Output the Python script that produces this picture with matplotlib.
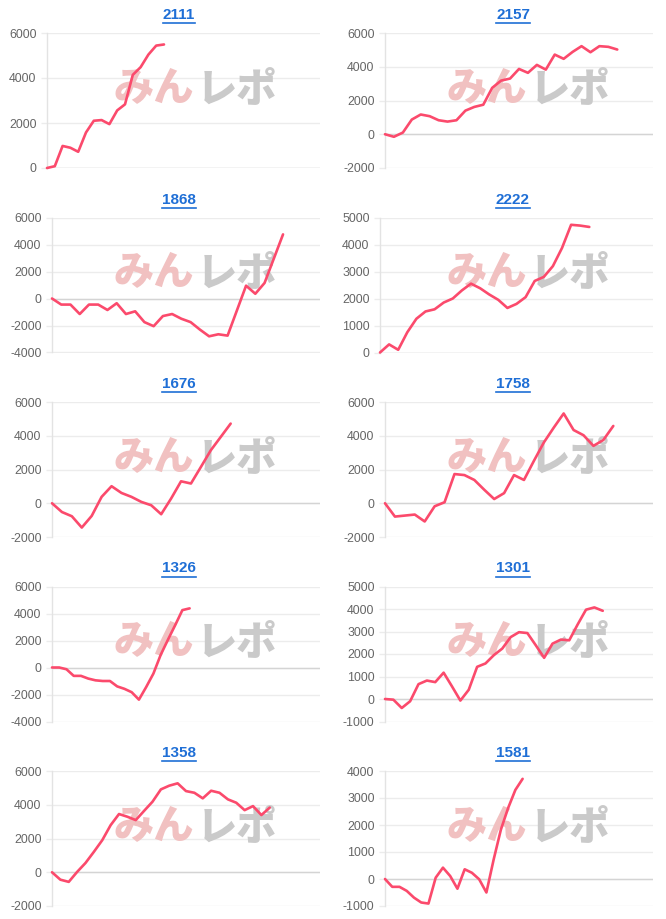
import matplotlib
matplotlib.use('Agg')
import matplotlib.pyplot as plt
import numpy as np
from matplotlib.lines import Line2D

# ---------------- data ----------------
titles = ['2111', '2157', '1868', '2222', '1676', '1758', '1326', '1301', '1358', '1581']

v2111 = [0, 80, 980, 900, 720, 1580, 2100, 2130, 1950, 2560, 2830, 4140, 4480, 5040, 5440, 5490]
v2157 = [0, -150, 100, 870, 1170, 1070, 830, 750, 830, 1400, 1620, 1750, 2750, 3180, 3300,
         3870, 3640, 4110, 3830, 4720, 4470, 4880, 5220, 4860, 5220, 5180, 5020]
v1868 = [0, -450, -450, -1150, -450, -450, -850, -350, -1150, -950, -1750, -2050, -1300, -1150,
         -1500, -1750, -2300, -2800, -2650, -2750, -900, 950, 350, 1150, 2950, 4750]
v2222 = [0, 300, 100, 750, 1250, 1520, 1600, 1850, 2000, 2300, 2550, 2380, 2150, 1950, 1650,
         1800, 2050, 2650, 2800, 3200, 3870, 4730, 4700, 4650]
v1676 = [0, -520, -770, -1440, -750, 380, 1010, 610, 380, 80, -120, -650, 280, 1300, 1170,
         2150, 3140, 3930, 4720]
v1758 = [0, -790, -730, -670, -1080, -180, 60, 1730, 1670, 1380, 800, 250, 600, 1670, 1380,
         2510, 3600, 4480, 5320, 4340, 4030, 3400, 3750, 4580]
v1326 = [0, 0, -130, -620, -620, -820, -950, -1000, -1000, -1400, -1580, -1830, -2380, -1450,
         -450, 930, 2050, 3130, 4250, 4380]
v1301 = [0, -30, -400, -100, 660, 820, 750, 1170, 560, -70, 410, 1430, 1580, 1950, 2240, 2750,
         2970, 2930, 2390, 1830, 2460, 2640, 2610, 3310, 3970, 4070, 3920]
v1358 = [0, -440, -570, 20, 550, 1210, 1900, 2790, 3450, 3290, 3090, 3640, 4180, 4910, 5130,
         5270, 4810, 4710, 4380, 4830, 4710, 4320, 4120, 3680, 3920, 3390, 3830]
v1581 = [0, -290, -290, -440, -690, -870, -910, 50, 420, 110, -360, 360, 230, -10, -500, 720,
         1830, 2630, 3300, 3710]

series = [v2111, v2157, v1868, v2222, v1676, v1758, v1326, v1301, v1358, v1581]
x_slots = [35, 30, 29, 30, 27, 27, 37, 32, 32, 37]
y_ranges = [(0, 6000, 2000), (-2000, 6000, 2000), (-4000, 6000, 2000), (0, 5000, 1000),
            (-2000, 6000, 2000), (-2000, 6000, 2000), (-4000, 6000, 2000), (-1000, 5000, 1000),
            (-2000, 6000, 2000), (-1000, 4000, 1000)]
wm_left, wm_right = 'みん', 'レポ'

# ---------------- layout ----------------
W, H = 666, 919
plt.rcParams['font.family'] = ['Liberation Sans', 'DejaVu Sans']
plt.rcParams['axes.unicode_minus'] = False
fig = plt.figure(figsize=(W / 100, H / 100), dpi=100)

row_off = [0, 184.5, 369, 553.5, 738]
plot_top = 33
plot_h = 135
col_off = [0, 333]
right_edge = [320, 653]
title_cx = [179, 513]

line_color = '#fb4a6c'
grid_color = '#ececec'
zero_color = '#d4d4d4'

titles_artists = []
for i, vals in enumerate(series):
    r, c = divmod(i, 2)
    ylo, yhi, step = y_ranges[i]
    left = col_off[c] + (52 if ylo < 0 else 47)
    right = right_edge[c]
    top = row_off[r] + plot_top
    ax = fig.add_axes([left / W, 1 - (top + plot_h) / H, (right - left) / W, plot_h / H])
    ax.set_xlim(0, x_slots[i])
    ax.set_ylim(ylo, yhi)
    ax.set_yticks(np.arange(ylo, yhi + 1, step))
    ax.set_xticks([])
    ax.grid(axis='y', color=grid_color, lw=1, zorder=0)
    ax.set_axisbelow(True)
    if ylo <= 0 <= yhi:
        ax.axhline(0, color=zero_color, lw=1, zorder=1)
    for s in ['top', 'right', 'bottom']:
        ax.spines[s].set_visible(False)
    ax.spines['left'].set_color('#e3e3e3')
    ax.spines['left'].set_linewidth(1)
    ax.tick_params(axis='y', length=4.5, width=1, color=grid_color, labelcolor='#666666',
                   labelsize=8.9, pad=3)
    ax.patch.set_alpha(0)

    # watermark
    wy = 1 - (row_off[r] + 89) / H
    ax.text((col_off[c] + 154) / W, wy, wm_left, transform=fig.transFigure, ha='center',
            va='center', fontsize=29, fontweight='heavy', color='#f1c1c1',
            family=['Noto Sans CJK JP', 'DejaVu Sans'], zorder=1.5, clip_on=False)
    ax.text((col_off[c] + 237) / W, wy, wm_right, transform=fig.transFigure, ha='center',
            va='center', fontsize=29, fontweight='heavy', color='#cacaca',
            family=['Noto Sans CJK JP', 'DejaVu Sans'], zorder=1.5, clip_on=False)

    x = np.arange(len(vals))
    ax.plot(x, vals, color=line_color, lw=1.9, solid_joinstyle='round',
            solid_capstyle='round', clip_on=False, zorder=3)

    t = fig.text(title_cx[c] / W, 1 - (row_off[r] + 15) / H, titles[i], ha='center',
                 va='center', fontsize=11, fontweight='bold', color='#1f6fd6')
    titles_artists.append(t)

fig.canvas.draw()
renderer = fig.canvas.get_renderer()
for t in titles_artists:
    bb = t.get_window_extent(renderer)
    yline = bb.y0 - 1.0
    fig.add_artist(Line2D([bb.x0 / W, bb.x1 / W], [yline / H, yline / H],
                          transform=fig.transFigure, color='#1f6fd6', lw=1.2))

fig.savefig('out.png', dpi=100)
